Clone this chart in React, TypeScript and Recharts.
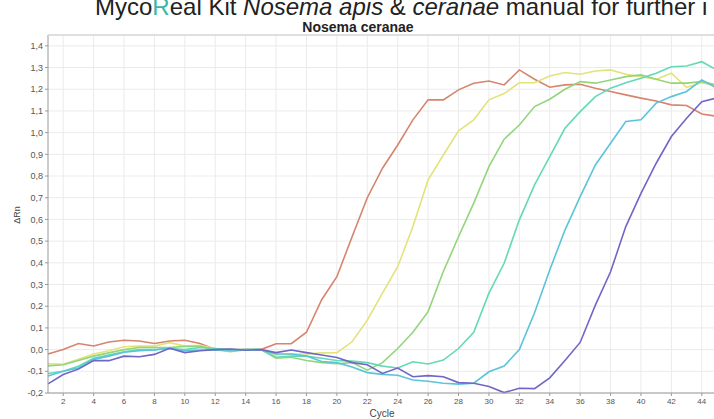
import React from 'react';
import { LineChart, Line, XAxis, YAxis, CartesianGrid } from 'recharts';

const cycles = [1, 2, 3, 4, 5, 6, 7, 8, 9, 10, 11, 12, 13, 14, 15, 16, 17, 18, 19, 20, 21, 22, 23, 24, 25, 26, 27, 28, 29, 30, 31, 32, 33, 34, 35, 36, 37, 38, 39, 40, 41, 42, 43, 44, 45];

const red = [
  -0.02, 0.0, 0.028, 0.017, 0.035, 0.043, 0.04, 0.028, 0.04, 0.043,
  0.028, 0.0, 0.0, 0.0, 0.0, 0.027, 0.027, 0.08, 0.23, 0.336,
  0.52, 0.70, 0.836, 0.943, 1.059, 1.151, 1.151, 1.197, 1.228, 1.238,
  1.22, 1.289, 1.246, 1.209, 1.22, 1.223, 1.205, 1.19, 1.174, 1.159,
  1.146, 1.128, 1.125, 1.086, 1.075,
];
const yellow = [
  -0.065, -0.068, -0.045, -0.02, -0.005, 0.013, 0.016, 0.016, 0.032, 0.016,
  0.02, 0.005, -0.005, 0.0, 0.0, -0.025, -0.02, -0.02, -0.015, -0.014,
  0.036, 0.136, 0.26, 0.382, 0.567, 0.782, 0.897, 1.008, 1.059, 1.151,
  1.18, 1.23, 1.23, 1.261, 1.277, 1.269, 1.284, 1.289, 1.269, 1.258,
  1.246, 1.274, 1.209, 1.23, 1.215,
];
const green = [
  -0.075, -0.07, -0.05, -0.03, -0.015, 0.0, 0.01, 0.01, 0.01, 0.015,
  0.015, 0.0, -0.01, 0.0, 0.0, -0.04, -0.035, -0.05, -0.06, -0.065,
  -0.06, -0.095, -0.06, 0.005, 0.08, 0.175, 0.36, 0.52, 0.675, 0.843,
  0.97, 1.035, 1.12, 1.154, 1.2, 1.235, 1.228, 1.243, 1.258, 1.266,
  1.246, 1.228, 1.228, 1.235, 1.22,
];
const teal = [
  -0.11, -0.1, -0.077, -0.04, -0.025, -0.01, 0.0, 0.0, 0.005, 0.0,
  0.01, 0.005, 0.0, 0.0, 0.0, -0.035, -0.03, -0.03, -0.04, -0.05,
  -0.053, -0.06, -0.076, -0.085, -0.056, -0.066, -0.048, 0.005, 0.08, 0.26,
  0.398, 0.598, 0.759, 0.889, 1.02, 1.097, 1.166, 1.205, 1.23, 1.251,
  1.274, 1.304, 1.307, 1.327, 1.289,
];
const cyan = [
  -0.122, -0.1, -0.085, -0.045, -0.03, -0.012, -0.005, -0.002, 0.006, -0.005,
  -0.002, 0.0, -0.003, 0.0, 0.0, -0.02, -0.02, -0.03, -0.055, -0.06,
  -0.08, -0.106, -0.114, -0.118, -0.14, -0.146, -0.155, -0.159, -0.155, -0.102,
  -0.076, 0.0, 0.17, 0.367, 0.551, 0.705, 0.851, 0.951, 1.051, 1.059,
  1.136, 1.166, 1.19, 1.243, 1.205,
];
const purple = [
  -0.158, -0.115, -0.09, -0.051, -0.051, -0.03, -0.033, -0.022, 0.006, -0.014,
  -0.005, 0.0, 0.003, -0.003, 0.0, -0.014, -0.002, -0.014, -0.025, -0.036,
  -0.06, -0.07, -0.11, -0.085, -0.125, -0.12, -0.125, -0.152, -0.155, -0.17,
  -0.198, -0.178, -0.18, -0.13, -0.05, 0.033, 0.205, 0.359, 0.567, 0.72,
  0.859, 0.982, 1.066, 1.143, 1.16,
];

const xTicks = [2, 4, 6, 8, 10, 12, 14, 16, 18, 20, 22, 24, 26, 28, 30, 32, 34, 36, 38, 40, 42, 44];
const yTicks = [-0.2, -0.1, 0.0, 0.1, 0.2, 0.3, 0.4, 0.5, 0.6, 0.7, 0.8, 0.9, 1.0, 1.1, 1.2, 1.3, 1.4];

const series = [
  { key: 'red', values: red, color: '#d6846d' },
  { key: 'yellow', values: yellow, color: '#e4e27a' },
  { key: 'green', values: green, color: '#93d57b' },
  { key: 'teal', values: teal, color: '#63d9b7' },
  { key: 'cyan', values: cyan, color: '#5bc4d9' },
  { key: 'purple', values: purple, color: '#7066c6' },
];

const data = cycles.map((c, i) => {
  const row: Record<string, number> = { cycle: c };
  series.forEach((s) => {
    row[s.key] = s.values[i];
  });
  return row;
});

const fmt = (v: number) => v.toFixed(1).replace('.', ',');

export default function App() {
  return (
    <div style={{ position: 'fixed', left: 0, top: 0, width: 714, height: 419, overflow: 'hidden', background: '#fff' }}>
      <div style={{ position: 'absolute', left: 0, top: 0 }}>
        <LineChart width={720} height={419} data={data} margin={{ top: 35, right: 3, left: 8, bottom: 0 }}>
          <CartesianGrid stroke="#ebebeb" strokeWidth={1} horizontalValues={yTicks} verticalValues={xTicks} />
          <XAxis
            dataKey="cycle"
            type="number"
            domain={[1, 45]}
            ticks={xTicks}
            interval={0}
            height={26}
            axisLine={{ stroke: '#9a9a9a' }}
            tickLine={{ stroke: '#9a9a9a' }}
            tickSize={3}
            tick={{ fontSize: 8, fill: '#555', fontFamily: 'Liberation Sans, Arial, sans-serif' }}
          />
          <YAxis
            type="number"
            domain={[-0.2, 1.45]}
            ticks={yTicks}
            interval={0}
            width={40}
            tickFormatter={fmt}
            axisLine={{ stroke: '#9a9a9a' }}
            tickLine={{ stroke: '#9a9a9a' }}
            tickSize={3}
            tick={{ fontSize: 9, fill: '#555', fontFamily: 'Liberation Sans, Arial, sans-serif' }}
          />
          {series.map((s) => (
            <Line
              key={s.key}
              dataKey={s.key}
              type="linear"
              stroke={s.color}
              strokeWidth={1.6}
              dot={false}
              isAnimationActive={false}
            />
          ))}
        </LineChart>
      </div>
      <svg width={714} height={419} style={{ position: 'absolute', left: 0, top: 0, pointerEvents: 'none' }}>
        <line x1={48} y1={35} x2={714} y2={35} stroke="#d5d5d5" strokeWidth={1.5} />
        <text x={95} y={15} fontSize={24} fill="#222" fontFamily="Liberation Sans, Arial, sans-serif">
          <tspan>Myco</tspan>
          <tspan fill="#3ab5a6">R</tspan>
          <tspan>eal Kit </tspan>
          <tspan fontStyle="italic">Nosema apis</tspan>
          <tspan> &amp; </tspan>
          <tspan fontStyle="italic">ceranae</tspan>
          <tspan> manual for further i</tspan>
        </text>
        <text x={358} y={32} fontSize={14} fontWeight="bold" fill="#222" textAnchor="middle" fontFamily="Liberation Sans Narrow, Liberation Sans, Arial, sans-serif">
          Nosema ceranae
        </text>
        <text x={20} y={215} fontSize={9} fill="#444" textAnchor="middle" transform="rotate(-90, 20, 215)" fontFamily="Liberation Sans, Arial, sans-serif">
          ΔRn
        </text>
        <text x={382} y={417} fontSize={10} fill="#444" textAnchor="middle" fontFamily="Liberation Sans, Arial, sans-serif">
          Cycle
        </text>
      </svg>
    </div>
  );
}
